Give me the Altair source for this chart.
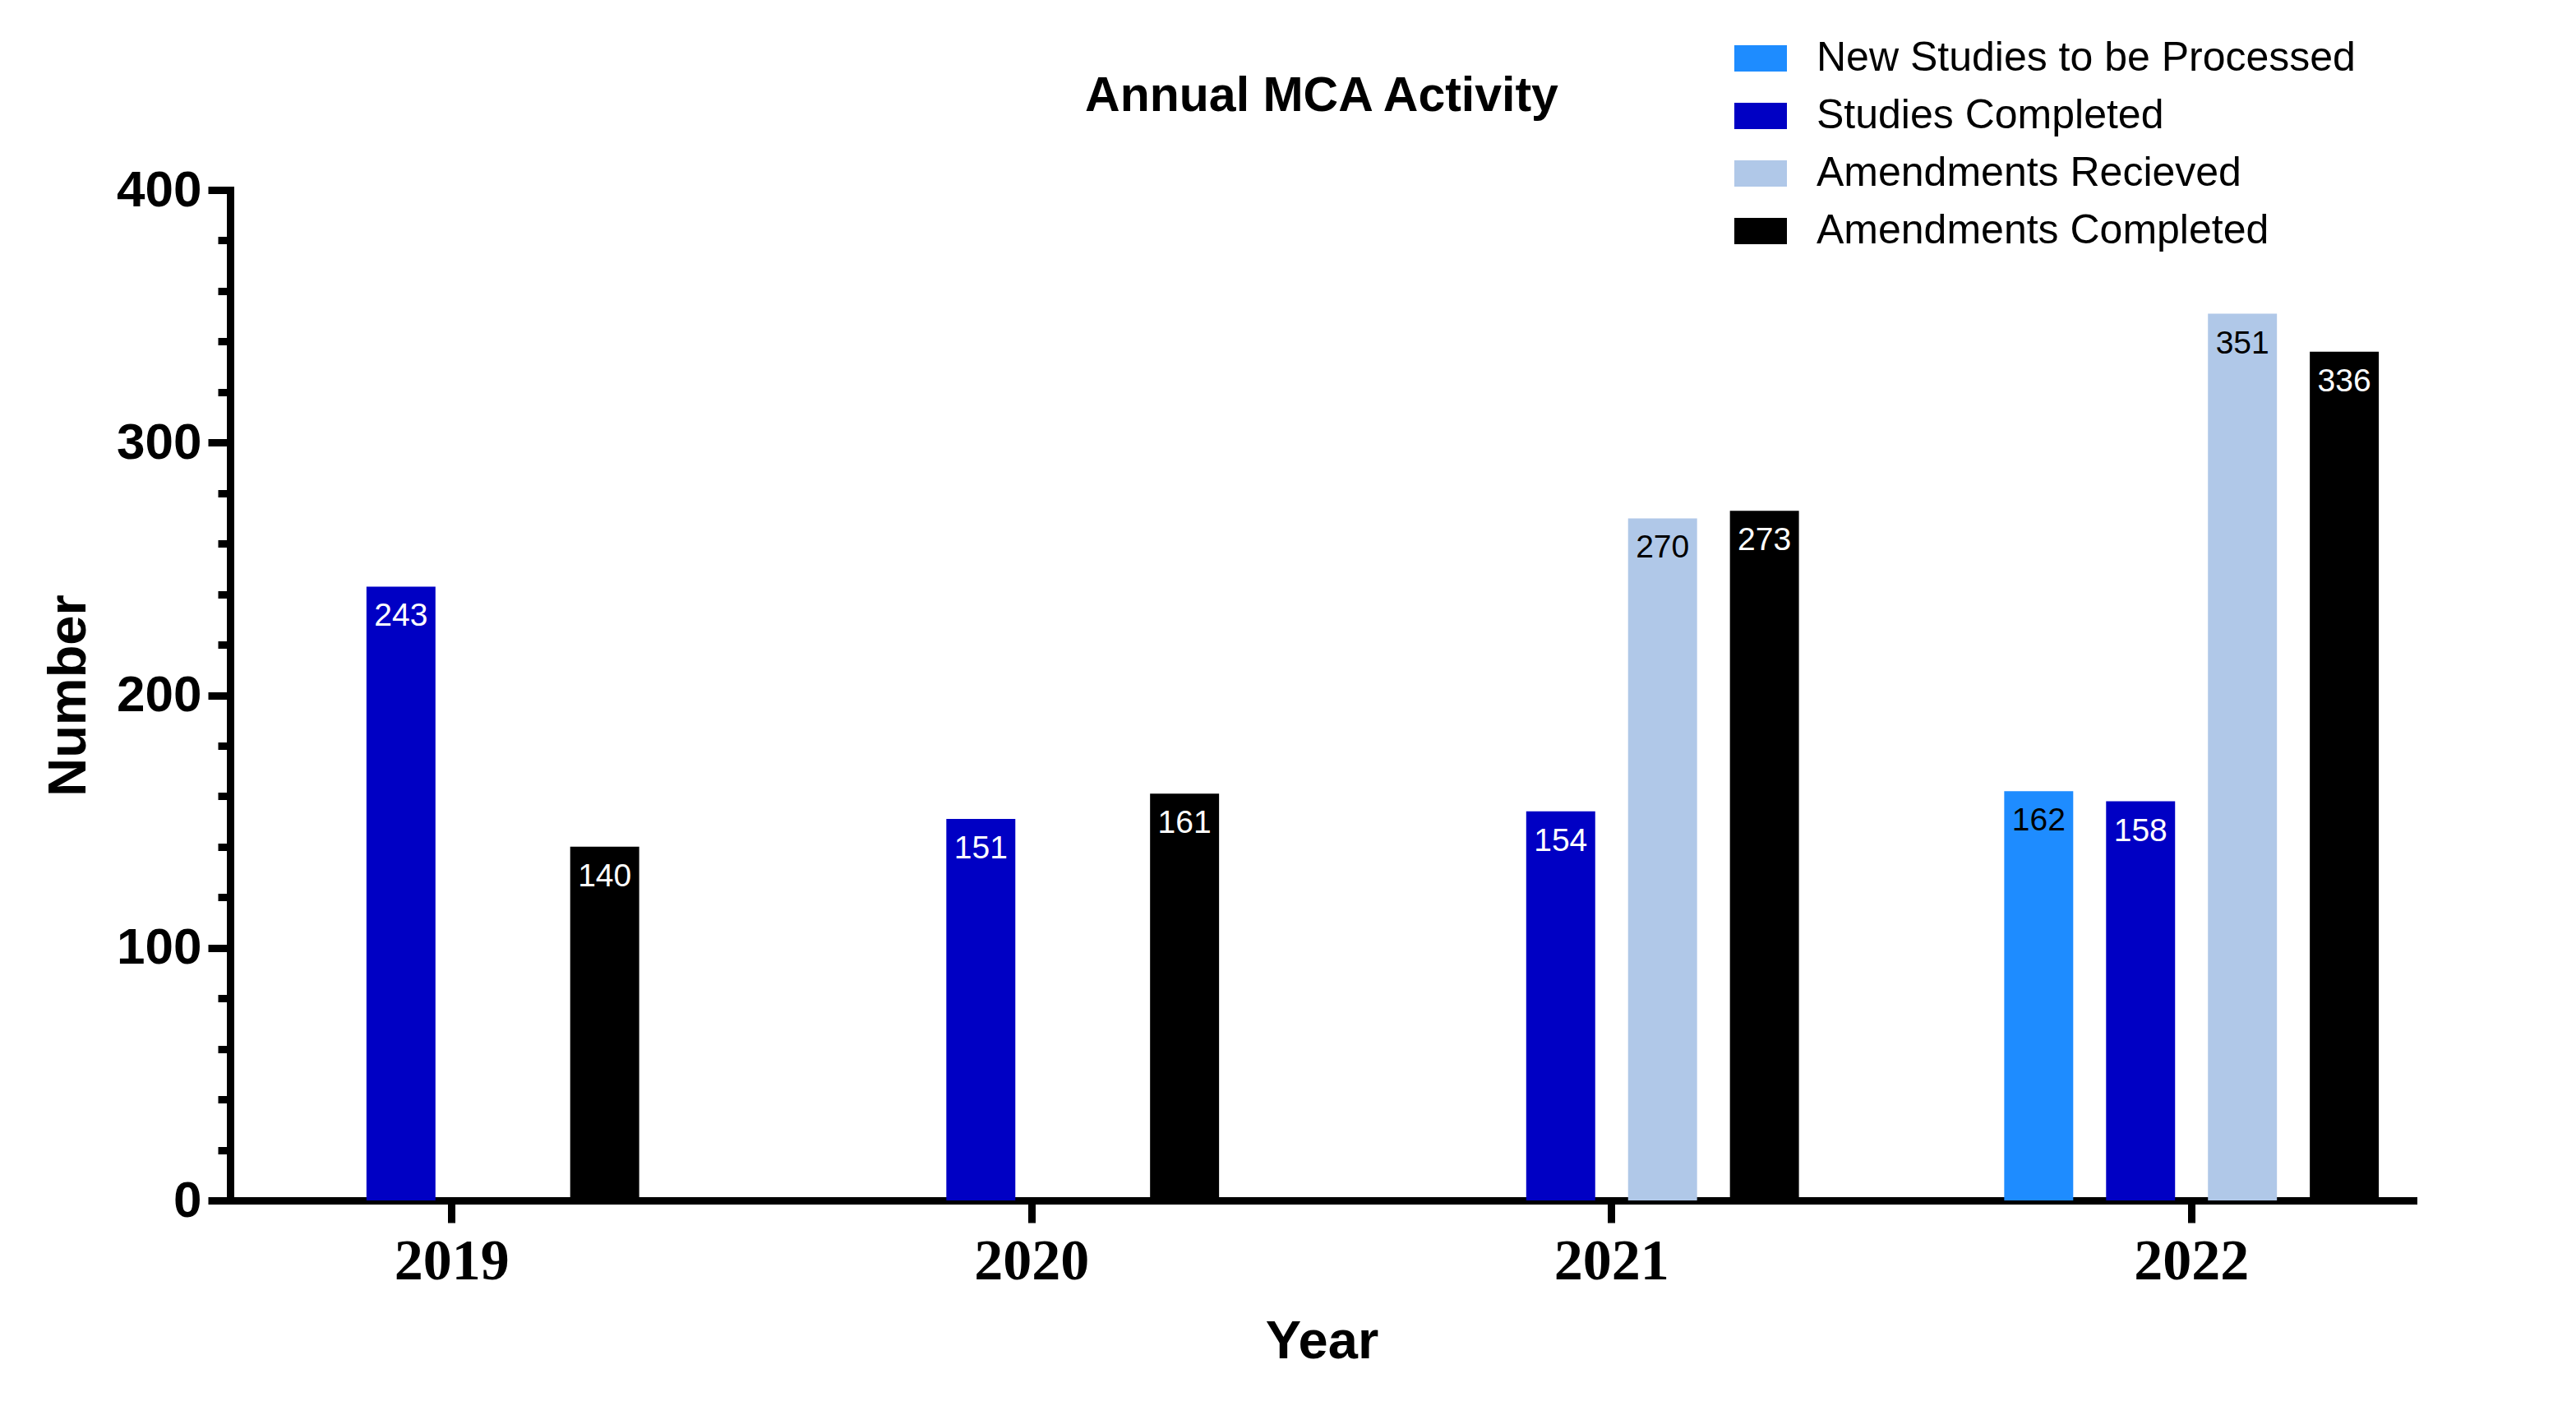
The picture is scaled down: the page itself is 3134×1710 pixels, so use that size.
import altair as alt
import pandas as pd

years = ["2019", "2020", "2021", "2022"]
series = [
    "New Studies to be Processed",
    "Studies Completed",
    "Amendments Recieved",
    "Amendments Completed",
]
new_studies = [None, None, None, 162]
studies_completed = [243, 151, 154, 158]
amend_received = [None, None, 270, 351]
amend_completed = [140, 161, 273, 336]
colors = ["#1E8CFF", "#0000C4", "#B0C8E8", "#000000"]

rows = []
for s, vals in zip(series, [new_studies, studies_completed, amend_received, amend_completed]):
    for y, v in zip(years, vals):
        if v is not None:
            rows.append({"Year": y, "Series": s, "Value": v})
df = pd.DataFrame(rows)

x_scale = alt.Scale(domain=years, paddingInner=0.354, paddingOuter=0.0594)

x_enc = alt.X(
    "Year:N",
    scale=x_scale,
    axis=alt.Axis(
        title="Year",
        labelAngle=0,
        labelFont="Liberation Serif",
        labelFontWeight="bold",
        labelFontSize=70,
        labelColor="black",
        labelPadding=13,
        tickSize=27,
        tickWidth=9,
        tickColor="black",
        domainWidth=9,
        domainColor="black",
        domainCap="square",
        titleFont="Liberation Sans",
        titleFontWeight="bold",
        titleFontSize=65,
        titleColor="black",
        titlePadding=31,
        grid=False,
    ),
)
xoff_enc = alt.XOffset(
    "Series:N",
    scale=alt.Scale(domain=series, paddingInner=0.3226, paddingOuter=0),
)
y_enc = alt.Y(
    "Value:Q",
    scale=alt.Scale(domain=[0, 400], nice=False),
    axis=alt.Axis(
        title="Number",
        values=list(range(0, 401, 10)),
        labelExpr="datum.value % 100 === 0 ? datum.label : ''",
        labelOverlap=False,
        labelFlush=False,
        labelFont="Liberation Sans",
        labelFontWeight="bold",
        labelFontSize=62,
        labelColor="black",
        labelPadding=8,
        tickSize={"condition": {"test": "datum.value % 100 === 0", "value": 27}, "value": 15},
        tickWidth=9,
        tickColor="black",
        domainWidth=9,
        domainColor="black",
        domainCap="square",
        titleFont="Liberation Sans",
        titleFontWeight="bold",
        titleFontSize=65,
        titleColor="black",
        titlePadding=24,
        grid=False,
    ),
)

bars = alt.Chart(df).mark_bar().encode(
    x=x_enc,
    xOffset=xoff_enc,
    y=y_enc,
    color=alt.Color(
        "Series:N",
        scale=alt.Scale(domain=series, range=colors),
        legend=alt.Legend(
            title=None,
            orient="none",
            legendX=1830,
            legendY=-192,
            symbolType="M-1,-0.5H1V0.5H-1Z",
            symbolSize=4096,
            symbolStrokeWidth=0,
            labelFont="Liberation Sans",
            labelFontSize=50,
            labelColor="black",
            labelOffset=36,
            labelLimit=1000,
            rowPadding=13,
        ),
    ),
)

labels = alt.Chart(df).mark_text(
    baseline="alphabetic", dy=48, fontSize=39, font="Liberation Sans"
).encode(
    x=alt.X("Year:N", scale=x_scale),
    xOffset=xoff_enc,
    y=alt.Y("Value:Q"),
    text=alt.Text("Value:Q"),
    color=alt.condition(
        "datum.Series === 'Studies Completed' || datum.Series === 'Amendments Completed'",
        alt.value("white"),
        alt.value("black"),
    ),
)

chart = (
    alt.layer(bars, labels)
    .properties(
        width=2656,
        height=1229,
        title=alt.TitleParams(
            text="Annual MCA Activity",
            font="Liberation Sans",
            fontWeight="bold",
            fontSize=59,
            color="black",
            anchor="middle",
            frame="group",
            baseline="alphabetic",
            offset=0,
            dy=155,
        ),
        autosize=alt.AutoSizeParams(type="none"),
        padding={"left": 272, "top": 223, "right": 150, "bottom": 230},
        background="white",
    )
    .configure_view(stroke=None)
)

chart.save("out.html", embed_options={"renderer": "svg", "actions": False})
